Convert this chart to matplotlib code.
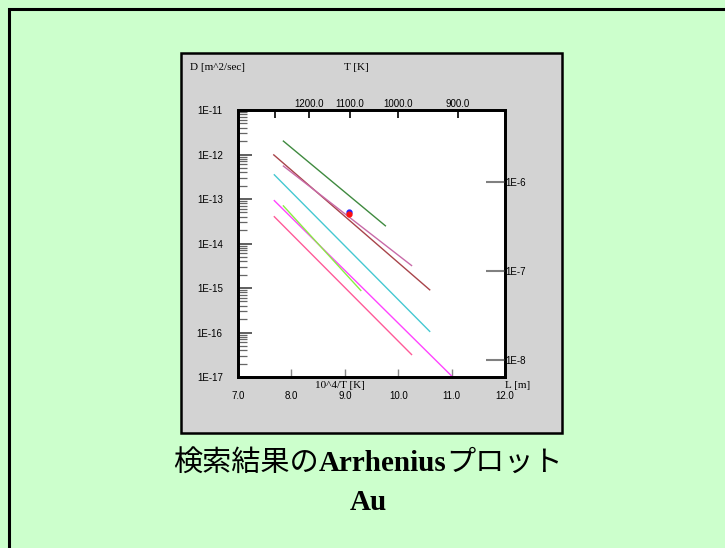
import matplotlib
matplotlib.use("Agg")
import matplotlib.pyplot as plt
from matplotlib.patches import Rectangle
from matplotlib.ticker import FixedLocator, LogLocator, NullFormatter, NullLocator

# Arrhenius lines: 10^4/T at start/end and D [m^2/sec] at start/end
line_colors = ["#3f8a3f", "#a8444a", "#c86aa8", "#45c8d2", "#ff44ff", "#88ee44", "#ff5a98"]
x_start = [7.85, 7.67, 7.85, 7.68, 7.68, 7.85, 7.68]
x_end = [9.76, 10.59, 10.25, 10.59, 11.02, 9.30, 10.25]
d_start = [2.0e-12, 9.8e-13, 5.5e-13, 3.5e-13, 9.2e-14, 7.0e-14, 4.0e-14]
d_end = [2.5e-14, 9.1e-16, 3.2e-15, 1.06e-16, 1.0e-17, 8.8e-16, 3.2e-17]

# single measurements
point_x = [9.08, 9.08]
point_d = [5.1e-14, 4.5e-14]
point_colors = ["#2020ff", "#ff1010"]

x_ticks = [7.0, 8.0, 9.0, 10.0, 11.0, 12.0]
temp_ticks = [1300.0, 1200.0, 1100.0, 1000.0, 900.0]
temp_labels = ["", "1200.0", "1100.0", "1000.0", "900.0"]
d_ticks = [1e-17, 1e-16, 1e-15, 1e-14, 1e-13, 1e-12, 1e-11]
d_labels = ["1E-17", "1E-16", "1E-15", "1E-14", "1E-13", "1E-12", "1E-11"]
l_ticks = [1e-8, 1e-7, 1e-6]
l_labels = ["1E-8", "1E-7", "1E-6"]

W, H = 725, 548
fig = plt.figure(figsize=(W / 100, H / 100), dpi=100, facecolor="#ccffcc")


def fx(px):
    return px / W


def fy(py):
    return 1 - py / H


# outer frame and gray panel (behind the axes)
fig.patches.append(Rectangle((fx(9), fy(560)), fx(740), (560 - 9) / H, transform=fig.transFigure,
                             facecolor="none", edgecolor="black", linewidth=2.2, zorder=-10))
fig.patches.append(Rectangle((fx(181), fy(433)), fx(381), (433 - 53) / H, transform=fig.transFigure,
                             facecolor="#d3d3d3", edgecolor="black", linewidth=1.8, zorder=-9))

ax = fig.add_axes([fx(238), fy(377), fx(267), (377 - 110) / H])
ax.set_facecolor("white")
for i in range(len(line_colors)):
    ax.plot([x_start[i], x_end[i]], [d_start[i], d_end[i]], color=line_colors[i], linewidth=1.0)
for i in range(len(point_x)):
    ax.plot(point_x[i], point_d[i], "o", color=point_colors[i], markersize=3.5, zorder=5)

ax.set_yscale("log")
ax.set_xlim(7.0, 12.0)
ax.set_ylim(1e-17, 1e-11)
for s in ax.spines.values():
    s.set_linewidth(1.8)

ax.set_xticks(x_ticks)
ax.set_xticklabels([f"{v:.1f}" for v in x_ticks], fontfamily="Liberation Sans", fontsize=7)
ax.tick_params(axis="x", direction="in", length=6, width=1, color="#888888", pad=10)

ax.yaxis.set_major_locator(FixedLocator(d_ticks))
ax.set_yticklabels(d_labels, fontfamily="Liberation Sans", fontsize=7)
ax.yaxis.set_minor_locator(LogLocator(base=10, subs=range(2, 10), numticks=20))
ax.yaxis.set_minor_formatter(NullFormatter())
ax.tick_params(axis="y", which="major", direction="in", length=10, width=1.2, color="#444444", pad=11)
ax.tick_params(axis="y", which="minor", direction="in", length=6.5, width=0.9, color="#666666")

# top axis: temperature
axt = ax.twiny()
axt.set_xlim(ax.get_xlim())
axt.set_xticks([1e4 / t for t in temp_ticks])
axt.set_xticklabels(temp_labels, fontfamily="Liberation Sans", fontsize=7)
axt.tick_params(axis="x", direction="in", length=6, width=1.2, color="black", pad=1)

# right axis: diffusion length
axr = ax.twinx()
axr.set_yscale("log")
axr.set_ylim(10 ** -8.19, 10 ** -5.19)
axr.yaxis.set_major_locator(FixedLocator(l_ticks))
axr.set_yticklabels(l_labels, fontfamily="Liberation Sans", fontsize=7)
axr.yaxis.set_minor_locator(NullLocator())
axr.tick_params(axis="y", direction="in", length=14, width=1.5, color="#808080", pad=0)
for a in (axt, axr):
    for s in a.spines.values():
        s.set_linewidth(1.8)

serif = dict(fontfamily="Liberation Serif", fontsize=8, transform=fig.transFigure, va="center")
fig.text(fx(190), fy(68), "D [m^2/sec]", ha="left", **serif)
fig.text(fx(356), fy(68), "T [K]", ha="center", **serif)
fig.text(fx(340), fy(386), "10^4/T [K]", ha="center", **serif)
fig.text(fx(518), fy(386), "L [m]", ha="center", **serif)

# title: mixed Japanese gothic and bold serif
parts = [("検索結果の", dict(fontfamily="Noto Sans CJK JP", fontweight="normal")),
         ("Arrhenius", dict(fontfamily="Liberation Serif", fontweight="bold")),
         ("プロット", dict(fontfamily="Noto Sans CJK JP", fontweight="normal"))]
renderer = fig.canvas.get_renderer()
texts = []
for s, props in parts:
    t = fig.text(0, fy(471), s, fontsize=21, ha="left", va="baseline", **props)
    texts.append(t)
widths = [t.get_window_extent(renderer).width for t in texts]
x0 = 368 - sum(widths) / 2
for t, w in zip(texts, widths):
    t.set_x(fx(x0))
    x0 += w
fig.text(fx(368), fy(510), "Au", fontsize=21, fontfamily="Liberation Serif", fontweight="bold",
         ha="center", va="baseline")

fig.savefig("out.png", dpi=100, facecolor=fig.get_facecolor())
